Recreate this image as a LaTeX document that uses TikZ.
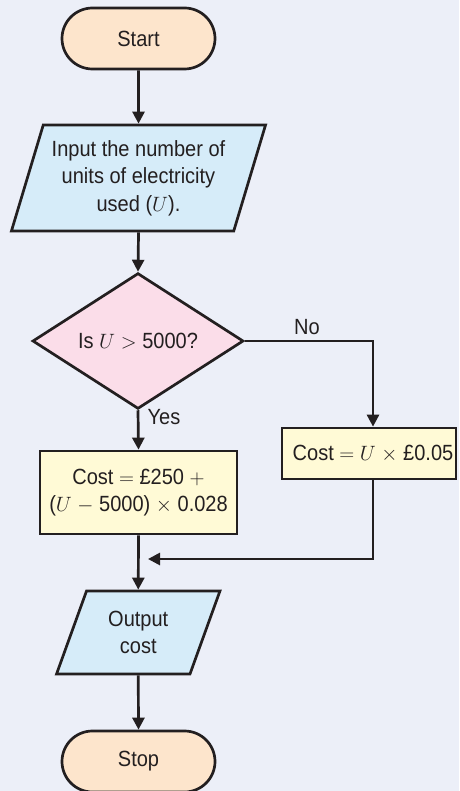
\documentclass[tikz,border=0pt]{standalone}
\usepackage{fontspec}
\setmainfont[FakeStretch=0.91]{Liberation Sans}
\usetikzlibrary{shapes.geometric,shapes.misc,arrows.meta}
\definecolor{bg}{HTML}{ECEFF8}
\definecolor{ink}{HTML}{231F20}
\definecolor{termfill}{HTML}{FDE5CC}
\definecolor{iofill}{HTML}{D6ECF9}
\definecolor{decfill}{HTML}{FBDDE9}
\definecolor{procfill}{HTML}{FFFAD6}
\begin{document}
\begin{tikzpicture}[x=1pt,y=1pt,
  every node/.style={font=\fontsize{22}{27.5}\selectfont, text=ink},
  base/.style={draw=ink, line width=2.7pt, align=center, inner sep=0pt},
  term/.style={base, fill=termfill, rounded rectangle, minimum width=153pt, minimum height=61pt},
  io/.style={base, fill=iofill, trapezium, trapezium stretches=true},
  dec/.style={base, fill=decfill, diamond, minimum width=211pt, minimum height=104pt},
  proc/.style={base, fill=procfill, rectangle},
  arr/.style={draw=ink, line width=2.7pt, -{Triangle[width=12pt,length=12pt]}},
  lbl/.style={inner sep=0pt}
]
\fill[bg] (0,0) rectangle (459,-791);
\useasboundingbox (0,0) rectangle (459,-791);

\node[term] (start) at (138.5,-38.5) {Start};
\node[io, trapezium left angle=69, trapezium right angle=111, minimum width=255pt, minimum height=106pt] (in) at (138.5,-178) {Input the number of\\units of electricity\\used ($U$).};
\node[dec] (dec) at (138,-341) {Is $U>$ 5000?};
\node[proc, minimum width=197pt, minimum height=83pt] (lb) at (138.5,-492.5) {Cost $=$ £250 $+$\\($U$ $-$ 5000) $\times$ 0.028};
\node[proc, minimum width=174pt, minimum height=51pt] (rb) at (369,-453.5) {\hspace*{8pt}Cost $=$ $U$ $\times$ £0.05};
\node[io, trapezium left angle=68, trapezium right angle=112, minimum width=164pt, minimum height=83pt] (out) at (138.25,-632.5) {Output\\cost};
\node[term] (stop) at (138.5,-761.5) {Stop};

\node[lbl] (no) at (307,-327) {No};
\node[lbl] (yes) at (164,-417) {Yes};
\coordinate (m) at (138,-559);

\draw[arr] (start.south) -- (in.north);
\draw[arr] (in.south) -- (dec.north);
\draw[arr] (dec.south) -- (lb.north);
\draw[arr] (dec.east) -| ([xshift=4pt]rb.north);
\draw[arr] ([xshift=4pt]rb.south) |- ([xshift=10pt]m);
\draw[arr] (lb.south) -- (out.north);
\draw[arr] (out.south) -- (stop.north);
\end{tikzpicture}
\end{document}
